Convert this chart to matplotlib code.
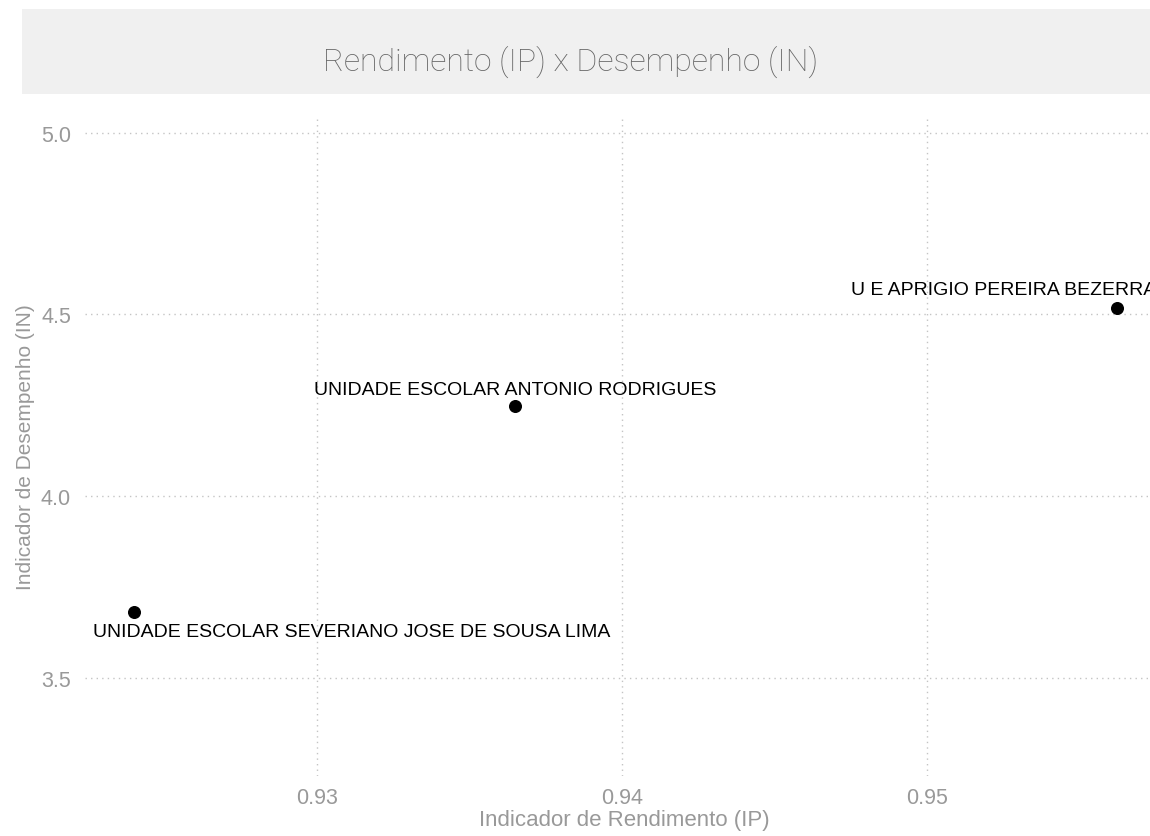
import matplotlib.pyplot as plt
from matplotlib.patches import Rectangle

# dados
escolas = ['UNIDADE ESCOLAR SEVERIANO JOSE DE SOUSA LIMA',
           'UNIDADE ESCOLAR ANTONIO RODRIGUES',
           'U E APRIGIO PEREIRA BEZERRA']
ip = [0.9240, 0.93649, 0.95623]
idn = [3.680, 4.248, 4.519]
# deslocamento dos rotulos (pontos)
offsets = [(157, -14), (0, 12), (-82, 13)]

plt.rcParams['font.family'] = ['Liberation Sans', 'DejaVu Sans']

fig = plt.figure(figsize=(11.5, 8.37), dpi=100)
fig.patches.append(Rectangle((22 / 1150, 1 - 95 / 837), 1 - 22 / 1150, 85 / 837,
                             transform=fig.transFigure, facecolor='#f0f0f0',
                             edgecolor='none', zorder=0))
fig.text(571 / 1150, 1 - 62 / 837, 'Rendimento (IP) x Desempenho (IN)',
         family=['Roboto', 'DejaVu Sans'], fontweight='light', fontsize=23,
         color='#666666', ha='center', va='center')

ax = fig.add_axes([85 / 1150, 60 / 837, 1065 / 1150, 659 / 837])
ax.scatter(ip, idn, s=70, color='black', zorder=3)
for nome, x, y, off in zip(escolas, ip, idn, offsets):
    ax.annotate(nome, (x, y), xytext=off, textcoords='offset points',
                ha='center', va='center', fontsize=14, color='black',
                annotation_clip=False)

ax.set_xlim(0.92239, 0.95731)
ax.set_ylim(3.2287, 5.044)
ax.set_xticks([0.93, 0.94, 0.95])
ax.set_xticklabels(['0.93', '0.94', '0.95'])
ax.set_yticks([3.5, 4.0, 4.5, 5.0])
ax.set_yticklabels(['3.5', '4.0', '4.5', '5.0'])
ax.grid(True, linestyle=(0, (1, 3)), color='#c4c4c4', linewidth=1)
ax.set_axisbelow(True)
for s in ax.spines.values():
    s.set_visible(False)
ax.tick_params(axis='x', length=0, labelsize=15.5, labelcolor='#999999', pad=8)
ax.tick_params(axis='y', length=0, labelsize=15.5, labelcolor='#999999', pad=10)
ax.set_xlabel('Indicador de Rendimento (IP)', fontsize=16, color='#999999')
ax.set_ylabel('Indicador de Desempenho (IN)', fontsize=15, color='#999999')
ax.xaxis.set_label_coords((624 - 85) / 1065, -33 / 659)
ax.yaxis.set_label_coords(-50 / 1065, 0.5)

fig.savefig('out.png', dpi=100)
